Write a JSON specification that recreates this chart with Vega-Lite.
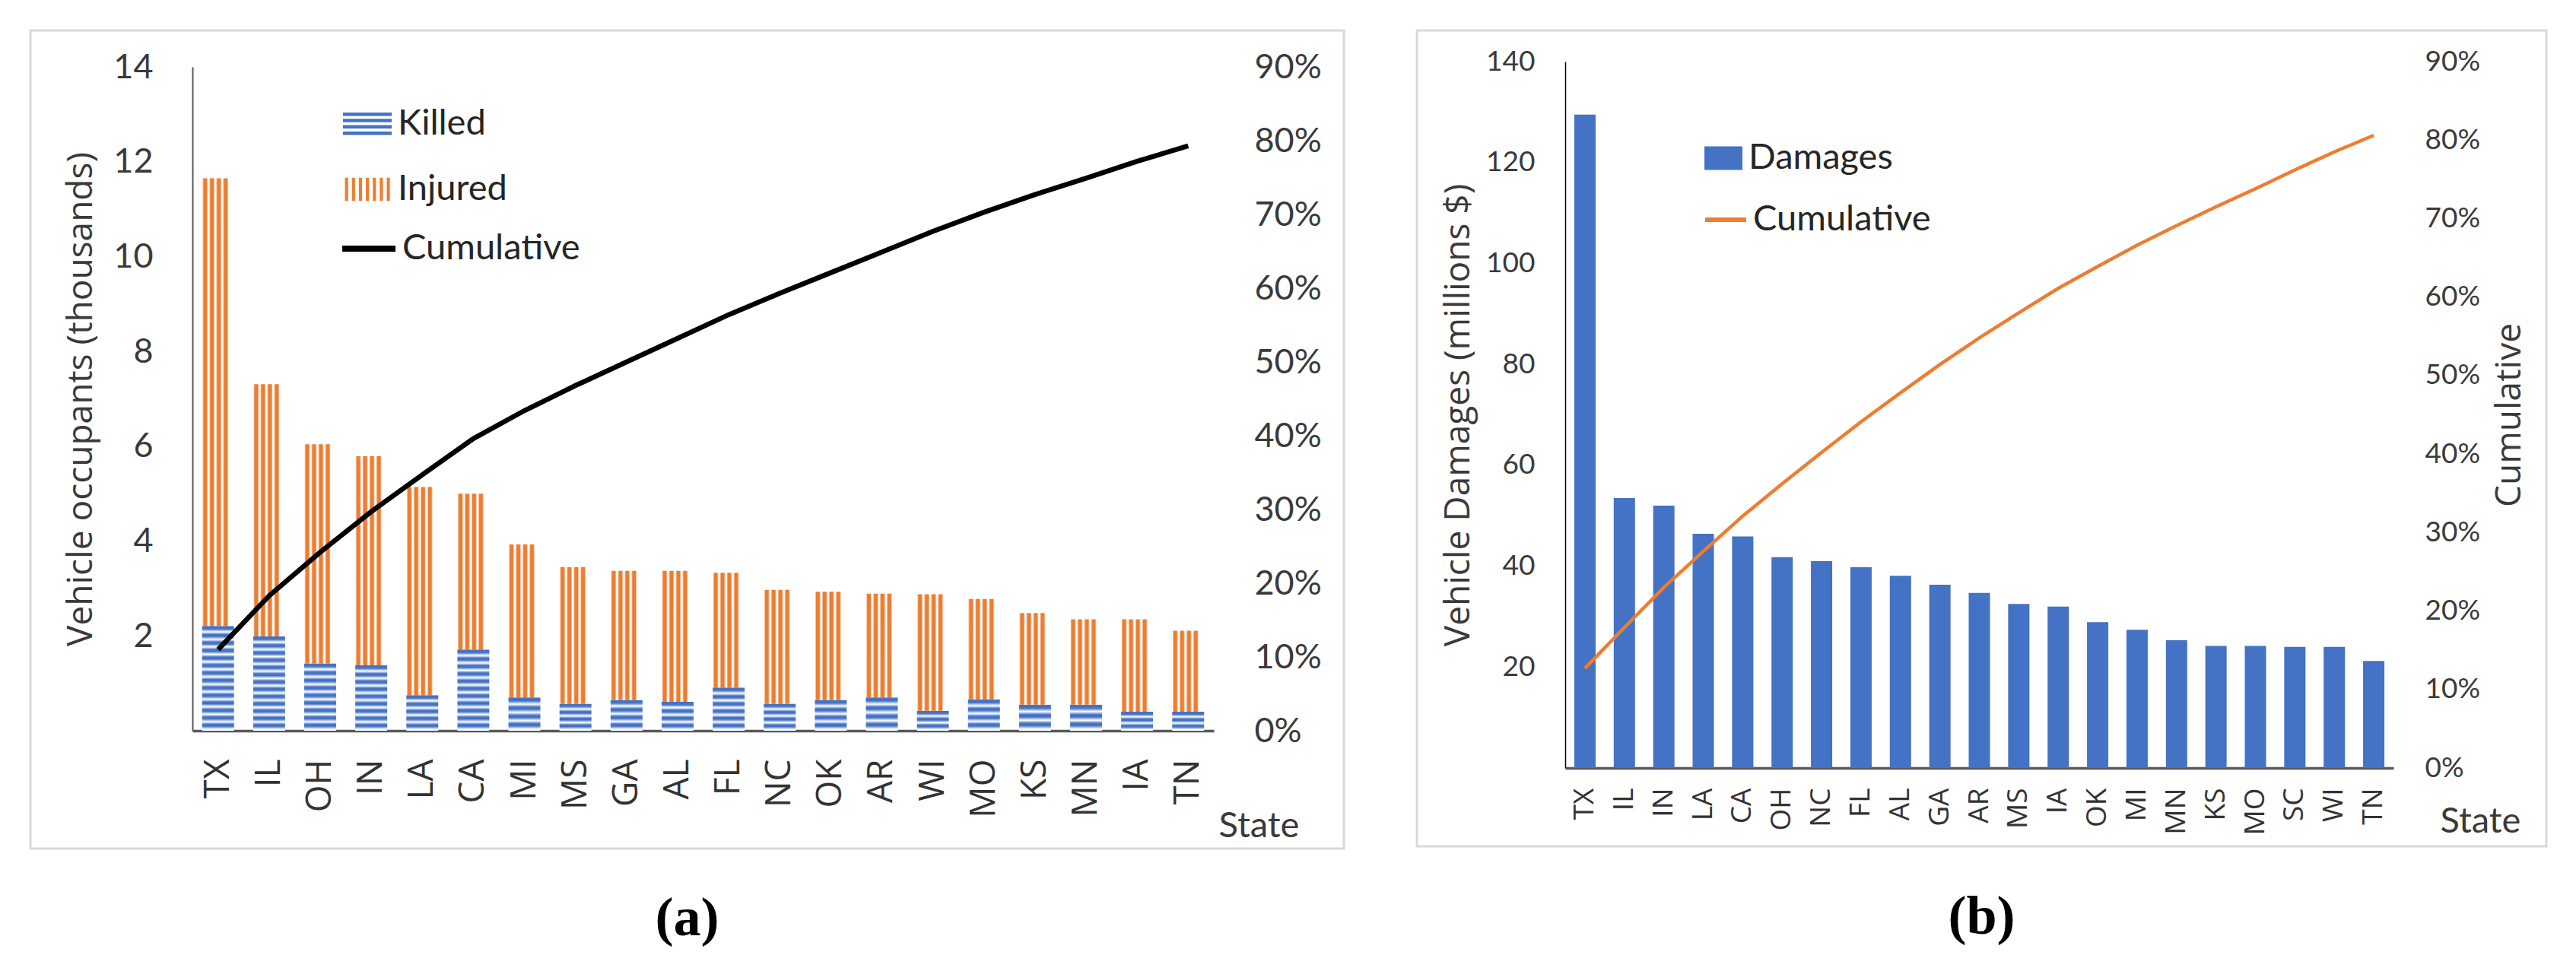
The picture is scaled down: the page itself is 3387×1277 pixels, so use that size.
{
  "$schema": "https://vega.github.io/schema/vega-lite/v6.json",
  "background": "white",
  "padding": {"left": 38, "top": 38, "right": 10, "bottom": 10},
  "config": {
    "font": "Lato",
    "view": {"stroke": "#d9d9d9", "strokeWidth": 3},
    "axis": {"grid": false, "ticks": false, "tickSize": 0, "labelColor": "#3a3a3a", "titleColor": "#3a3a3a", "titleFontWeight": "normal", "titleFont": "Open Sans", "labelFont": "Lato"},
    "legend": {"padding": 0, "labelFont": "Lato", "labelColor": "#262626", "labelLimit": 500}
  },
  "datasets": {
    "occupants": [
      {"State": "TX", "Killed": 2.21, "Injured": 9.44, "Cumulative": 0.110},
      {"State": "IL", "Killed": 1.99, "Injured": 5.32, "Cumulative": 0.183},
      {"State": "OH", "Killed": 1.42, "Injured": 4.62, "Cumulative": 0.242},
      {"State": "IN", "Killed": 1.38, "Injured": 4.41, "Cumulative": 0.297},
      {"State": "LA", "Killed": 0.75, "Injured": 4.39, "Cumulative": 0.347},
      {"State": "CA", "Killed": 1.71, "Injured": 3.29, "Cumulative": 0.396},
      {"State": "MI", "Killed": 0.70, "Injured": 3.23, "Cumulative": 0.434},
      {"State": "MS", "Killed": 0.57, "Injured": 2.88, "Cumulative": 0.468},
      {"State": "GA", "Killed": 0.65, "Injured": 2.72, "Cumulative": 0.500},
      {"State": "AL", "Killed": 0.61, "Injured": 2.76, "Cumulative": 0.532},
      {"State": "FL", "Killed": 0.91, "Injured": 2.42, "Cumulative": 0.564},
      {"State": "NC", "Killed": 0.57, "Injured": 2.40, "Cumulative": 0.593},
      {"State": "OK", "Killed": 0.65, "Injured": 2.28, "Cumulative": 0.621},
      {"State": "AR", "Killed": 0.70, "Injured": 2.19, "Cumulative": 0.649},
      {"State": "WI", "Killed": 0.42, "Injured": 2.46, "Cumulative": 0.677},
      {"State": "MO", "Killed": 0.66, "Injured": 2.12, "Cumulative": 0.703},
      {"State": "KS", "Killed": 0.55, "Injured": 1.93, "Cumulative": 0.727},
      {"State": "MN", "Killed": 0.55, "Injured": 1.80, "Cumulative": 0.749},
      {"State": "IA", "Killed": 0.40, "Injured": 1.95, "Cumulative": 0.772},
      {"State": "TN", "Killed": 0.40, "Injured": 1.71, "Cumulative": 0.793}
    ],
    "damages": [
      {"State": "TX", "Damages": 129.5, "Cumulative": 0.127},
      {"State": "IL", "Damages": 53.5, "Cumulative": 0.179},
      {"State": "IN", "Damages": 52.0, "Cumulative": 0.230},
      {"State": "LA", "Damages": 46.4, "Cumulative": 0.276},
      {"State": "CA", "Damages": 45.9, "Cumulative": 0.321},
      {"State": "OH", "Damages": 41.8, "Cumulative": 0.362},
      {"State": "NC", "Damages": 41.0, "Cumulative": 0.402},
      {"State": "FL", "Damages": 39.8, "Cumulative": 0.441},
      {"State": "AL", "Damages": 38.1, "Cumulative": 0.478},
      {"State": "GA", "Damages": 36.3, "Cumulative": 0.514},
      {"State": "AR", "Damages": 34.7, "Cumulative": 0.548},
      {"State": "MS", "Damages": 32.5, "Cumulative": 0.580},
      {"State": "IA", "Damages": 32.0, "Cumulative": 0.611},
      {"State": "OK", "Damages": 28.9, "Cumulative": 0.639},
      {"State": "MI", "Damages": 27.4, "Cumulative": 0.666},
      {"State": "MN", "Damages": 25.3, "Cumulative": 0.691},
      {"State": "KS", "Damages": 24.2, "Cumulative": 0.715},
      {"State": "MO", "Damages": 24.2, "Cumulative": 0.738},
      {"State": "SC", "Damages": 24.0, "Cumulative": 0.762},
      {"State": "WI", "Damages": 24.0, "Cumulative": 0.785},
      {"State": "TN", "Damages": 21.2, "Cumulative": 0.806}
    ]
  },
  "bounds": "flush",
  "spacing": 96,
  "resolve": {"scale": {"fill": "independent", "stroke": "independent"}, "legend": {"fill": "independent", "stroke": "independent"}},
  "hconcat": [
    {
      "width": 1727,
      "height": 1076,
      "data": {"name": "occupants"},
      "title": {"text": "(a)", "orient": "bottom", "anchor": "middle", "frame": "group", "font": "Liberation Serif", "fontWeight": "bold", "fontSize": 72, "offset": 57, "color": "#000000"},
      "layer": [
        {
          "transform": [{"fold": ["Killed", "Injured"], "as": ["key", "value"]}],
          "mark": {"type": "bar"},
          "encoding": {
            "x": {"field": "State", "type": "nominal", "sort": null,
              "scale": {"range": [213, 1556], "paddingInner": 0.375, "paddingOuter": 0.19},
              "axis": {"offset": -155, "labelAngle": 270, "labelFont": "Open Sans", "labelFontSize": 46, "labelColor": "#333333", "labelPadding": 37, "domainColor": "#595959", "domainWidth": 3.5,
                "title": "State", "titleFont": "Lato", "titleFontSize": 47, "titleAngle": 0, "titleAlign": "left", "titleBaseline": "alphabetic", "titleX": 1562, "titleY": 139}},
            "y": {"field": "value", "type": "quantitative", "stack": "zero",
              "scale": {"domain": [0, 14], "range": [921, 48], "nice": false},
              "axis": {"orient": "left", "offset": -213, "values": [2, 4, 6, 8, 10, 12, 14], "labelFontSize": 45, "labelPadding": 52, "domainColor": "#595959", "domainWidth": 2,
                "title": "Vehicle occupants (thousands)", "titleFontSize": 46, "titlePadding": 18}},
            "order": {"field": "key", "type": "nominal", "sort": "descending"},
            "fill": {
              "field": "key", "type": "nominal",
              "scale": {"domain": ["Killed", "Injured"], "range": ["#4472c4", "#ed7d31"]},
              "legend": {"title": null, "orient": "none", "legendX": 411, "legendY": 91, "direction": "vertical",
                "symbolType": {"expr": "datum.value === 'Killed' ? 'M-1,-0.47H1V-0.33H-1Z M-1,-0.21H1V-0.07H-1Z M-1,0.05H1V0.19H-1Z M-1,0.31H1V0.45H-1Z' : 'M-0.92,-0.48H-0.79V0.48H-0.92Z M-0.634,-0.48H-0.504V0.48H-0.634Z M-0.348,-0.48H-0.218V0.48H-0.348Z M-0.062,-0.48H0.068V0.48H-0.062Z M0.224,-0.48H0.354V0.48H0.224Z M0.51,-0.48H0.64V0.48H0.51Z M0.796,-0.48H0.926V0.48H0.796Z'"},
                "symbolSize": 4096, "symbolStrokeWidth": 0,
                "labelFontSize": 47, "labelOffset": 8, "rowPadding": 31}
              ,
              "condition": [
                {"test": "datum.key === 'Injured'", "value": {"gradient": "linear", "x1": 0, "y1": 0, "x2": 1, "y2": 0, "stops": [
                  {"offset": 0.005, "color": "#ffffff"}, {"offset": 0.05, "color": "#ed7d31"}, {"offset": 0.14, "color": "#ed7d31"}, {"offset": 0.185, "color": "#ffffff"},
                  {"offset": 0.219, "color": "#ffffff"}, {"offset": 0.264, "color": "#ed7d31"}, {"offset": 0.354, "color": "#ed7d31"}, {"offset": 0.399, "color": "#ffffff"},
                  {"offset": 0.433, "color": "#ffffff"}, {"offset": 0.478, "color": "#ed7d31"}, {"offset": 0.568, "color": "#ed7d31"}, {"offset": 0.613, "color": "#ffffff"},
                  {"offset": 0.647, "color": "#ffffff"}, {"offset": 0.692, "color": "#ed7d31"}, {"offset": 0.782, "color": "#ed7d31"}, {"offset": 0.827, "color": "#ffffff"}]}},
                {"test": "datum.value > 2.1", "value": {"gradient": "linear", "x1": 0, "y1": 0, "x2": 0, "y2": 1, "stops": [
                  {"offset": 0.0107, "color": "#4472c4"}, {"offset": 0.0286, "color": "#4472c4"}, {"offset": 0.0571, "color": "#ffffff"},
                  {"offset": 0.0821, "color": "#4472c4"}, {"offset": 0.1, "color": "#4472c4"}, {"offset": 0.1286, "color": "#ffffff"},
                  {"offset": 0.1536, "color": "#4472c4"}, {"offset": 0.1714, "color": "#4472c4"}, {"offset": 0.2, "color": "#ffffff"},
                  {"offset": 0.225, "color": "#4472c4"}, {"offset": 0.2429, "color": "#4472c4"}, {"offset": 0.2714, "color": "#ffffff"},
                  {"offset": 0.2964, "color": "#4472c4"}, {"offset": 0.3143, "color": "#4472c4"}, {"offset": 0.3429, "color": "#ffffff"},
                  {"offset": 0.3679, "color": "#4472c4"}, {"offset": 0.3857, "color": "#4472c4"}, {"offset": 0.4143, "color": "#ffffff"},
                  {"offset": 0.4393, "color": "#4472c4"}, {"offset": 0.4571, "color": "#4472c4"}, {"offset": 0.4857, "color": "#ffffff"},
                  {"offset": 0.5107, "color": "#4472c4"}, {"offset": 0.5286, "color": "#4472c4"}, {"offset": 0.5571, "color": "#ffffff"},
                  {"offset": 0.5821, "color": "#4472c4"}, {"offset": 0.6, "color": "#4472c4"}, {"offset": 0.6286, "color": "#ffffff"},
                  {"offset": 0.6536, "color": "#4472c4"}, {"offset": 0.6714, "color": "#4472c4"}, {"offset": 0.7, "color": "#ffffff"},
                  {"offset": 0.725, "color": "#4472c4"}, {"offset": 0.7429, "color": "#4472c4"}, {"offset": 0.7714, "color": "#ffffff"},
                  {"offset": 0.7964, "color": "#4472c4"}, {"offset": 0.8143, "color": "#4472c4"}, {"offset": 0.8429, "color": "#ffffff"},
                  {"offset": 0.8679, "color": "#4472c4"}, {"offset": 0.8857, "color": "#4472c4"}, {"offset": 0.9143, "color": "#ffffff"},
                  {"offset": 0.9393, "color": "#4472c4"}, {"offset": 0.9571, "color": "#4472c4"}, {"offset": 0.9857, "color": "#ffffff"}]}},
                {"test": "datum.value > 1.9", "value": {"gradient": "linear", "x1": 0, "y1": 0, "x2": 0, "y2": 1, "stops": [
                  {"offset": 0.0115, "color": "#4472c4"}, {"offset": 0.0308, "color": "#4472c4"}, {"offset": 0.0615, "color": "#ffffff"},
                  {"offset": 0.0885, "color": "#4472c4"}, {"offset": 0.1077, "color": "#4472c4"}, {"offset": 0.1385, "color": "#ffffff"},
                  {"offset": 0.1654, "color": "#4472c4"}, {"offset": 0.1846, "color": "#4472c4"}, {"offset": 0.2154, "color": "#ffffff"},
                  {"offset": 0.2423, "color": "#4472c4"}, {"offset": 0.2615, "color": "#4472c4"}, {"offset": 0.2923, "color": "#ffffff"},
                  {"offset": 0.3192, "color": "#4472c4"}, {"offset": 0.3385, "color": "#4472c4"}, {"offset": 0.3692, "color": "#ffffff"},
                  {"offset": 0.3962, "color": "#4472c4"}, {"offset": 0.4154, "color": "#4472c4"}, {"offset": 0.4462, "color": "#ffffff"},
                  {"offset": 0.4731, "color": "#4472c4"}, {"offset": 0.4923, "color": "#4472c4"}, {"offset": 0.5231, "color": "#ffffff"},
                  {"offset": 0.55, "color": "#4472c4"}, {"offset": 0.5692, "color": "#4472c4"}, {"offset": 0.6, "color": "#ffffff"},
                  {"offset": 0.6269, "color": "#4472c4"}, {"offset": 0.6462, "color": "#4472c4"}, {"offset": 0.6769, "color": "#ffffff"},
                  {"offset": 0.7038, "color": "#4472c4"}, {"offset": 0.7231, "color": "#4472c4"}, {"offset": 0.7538, "color": "#ffffff"},
                  {"offset": 0.7808, "color": "#4472c4"}, {"offset": 0.8, "color": "#4472c4"}, {"offset": 0.8308, "color": "#ffffff"},
                  {"offset": 0.8577, "color": "#4472c4"}, {"offset": 0.8769, "color": "#4472c4"}, {"offset": 0.9077, "color": "#ffffff"},
                  {"offset": 0.9346, "color": "#4472c4"}, {"offset": 0.9538, "color": "#4472c4"}, {"offset": 0.9846, "color": "#ffffff"}]}},
                {"test": "datum.value > 1.6", "value": {"gradient": "linear", "x1": 0, "y1": 0, "x2": 0, "y2": 1, "stops": [
                  {"offset": 0.0136, "color": "#4472c4"}, {"offset": 0.0364, "color": "#4472c4"}, {"offset": 0.0727, "color": "#ffffff"},
                  {"offset": 0.1045, "color": "#4472c4"}, {"offset": 0.1273, "color": "#4472c4"}, {"offset": 0.1636, "color": "#ffffff"},
                  {"offset": 0.1955, "color": "#4472c4"}, {"offset": 0.2182, "color": "#4472c4"}, {"offset": 0.2545, "color": "#ffffff"},
                  {"offset": 0.2864, "color": "#4472c4"}, {"offset": 0.3091, "color": "#4472c4"}, {"offset": 0.3455, "color": "#ffffff"},
                  {"offset": 0.3773, "color": "#4472c4"}, {"offset": 0.4, "color": "#4472c4"}, {"offset": 0.4364, "color": "#ffffff"},
                  {"offset": 0.4682, "color": "#4472c4"}, {"offset": 0.4909, "color": "#4472c4"}, {"offset": 0.5273, "color": "#ffffff"},
                  {"offset": 0.5591, "color": "#4472c4"}, {"offset": 0.5818, "color": "#4472c4"}, {"offset": 0.6182, "color": "#ffffff"},
                  {"offset": 0.65, "color": "#4472c4"}, {"offset": 0.6727, "color": "#4472c4"}, {"offset": 0.7091, "color": "#ffffff"},
                  {"offset": 0.7409, "color": "#4472c4"}, {"offset": 0.7636, "color": "#4472c4"}, {"offset": 0.8, "color": "#ffffff"},
                  {"offset": 0.8318, "color": "#4472c4"}, {"offset": 0.8545, "color": "#4472c4"}, {"offset": 0.8909, "color": "#ffffff"},
                  {"offset": 0.9227, "color": "#4472c4"}, {"offset": 0.9455, "color": "#4472c4"}, {"offset": 0.9818, "color": "#ffffff"}]}},
                {"test": "datum.value > 1.3", "value": {"gradient": "linear", "x1": 0, "y1": 0, "x2": 0, "y2": 1, "stops": [
                  {"offset": 0.0167, "color": "#4472c4"}, {"offset": 0.0444, "color": "#4472c4"}, {"offset": 0.0889, "color": "#ffffff"},
                  {"offset": 0.1278, "color": "#4472c4"}, {"offset": 0.1556, "color": "#4472c4"}, {"offset": 0.2, "color": "#ffffff"},
                  {"offset": 0.2389, "color": "#4472c4"}, {"offset": 0.2667, "color": "#4472c4"}, {"offset": 0.3111, "color": "#ffffff"},
                  {"offset": 0.35, "color": "#4472c4"}, {"offset": 0.3778, "color": "#4472c4"}, {"offset": 0.4222, "color": "#ffffff"},
                  {"offset": 0.4611, "color": "#4472c4"}, {"offset": 0.4889, "color": "#4472c4"}, {"offset": 0.5333, "color": "#ffffff"},
                  {"offset": 0.5722, "color": "#4472c4"}, {"offset": 0.6, "color": "#4472c4"}, {"offset": 0.6444, "color": "#ffffff"},
                  {"offset": 0.6833, "color": "#4472c4"}, {"offset": 0.7111, "color": "#4472c4"}, {"offset": 0.7556, "color": "#ffffff"},
                  {"offset": 0.7944, "color": "#4472c4"}, {"offset": 0.8222, "color": "#4472c4"}, {"offset": 0.8667, "color": "#ffffff"},
                  {"offset": 0.9056, "color": "#4472c4"}, {"offset": 0.9333, "color": "#4472c4"}, {"offset": 0.9778, "color": "#ffffff"}]}},
                {"test": "datum.value > 0.85", "value": {"gradient": "linear", "x1": 0, "y1": 0, "x2": 0, "y2": 1, "stops": [
                  {"offset": 0.025, "color": "#4472c4"}, {"offset": 0.0667, "color": "#4472c4"}, {"offset": 0.1333, "color": "#ffffff"},
                  {"offset": 0.1917, "color": "#4472c4"}, {"offset": 0.2333, "color": "#4472c4"}, {"offset": 0.3, "color": "#ffffff"},
                  {"offset": 0.3583, "color": "#4472c4"}, {"offset": 0.4, "color": "#4472c4"}, {"offset": 0.4667, "color": "#ffffff"},
                  {"offset": 0.525, "color": "#4472c4"}, {"offset": 0.5667, "color": "#4472c4"}, {"offset": 0.6333, "color": "#ffffff"},
                  {"offset": 0.6917, "color": "#4472c4"}, {"offset": 0.7333, "color": "#4472c4"}, {"offset": 0.8, "color": "#ffffff"},
                  {"offset": 0.8583, "color": "#4472c4"}, {"offset": 0.9, "color": "#4472c4"}, {"offset": 0.9667, "color": "#ffffff"}]}},
                {"test": "datum.value > 0.72", "value": {"gradient": "linear", "x1": 0, "y1": 0, "x2": 0, "y2": 1, "stops": [
                  {"offset": 0.03, "color": "#4472c4"}, {"offset": 0.08, "color": "#4472c4"}, {"offset": 0.16, "color": "#ffffff"},
                  {"offset": 0.23, "color": "#4472c4"}, {"offset": 0.28, "color": "#4472c4"}, {"offset": 0.36, "color": "#ffffff"},
                  {"offset": 0.43, "color": "#4472c4"}, {"offset": 0.48, "color": "#4472c4"}, {"offset": 0.56, "color": "#ffffff"},
                  {"offset": 0.63, "color": "#4472c4"}, {"offset": 0.68, "color": "#4472c4"}, {"offset": 0.76, "color": "#ffffff"},
                  {"offset": 0.83, "color": "#4472c4"}, {"offset": 0.88, "color": "#4472c4"}, {"offset": 0.96, "color": "#ffffff"}]}},
                {"test": "datum.value > 0.56", "value": {"gradient": "linear", "x1": 0, "y1": 0, "x2": 0, "y2": 1, "stops": [
                  {"offset": 0.0375, "color": "#4472c4"}, {"offset": 0.1, "color": "#4472c4"}, {"offset": 0.2, "color": "#ffffff"},
                  {"offset": 0.2875, "color": "#4472c4"}, {"offset": 0.35, "color": "#4472c4"}, {"offset": 0.45, "color": "#ffffff"},
                  {"offset": 0.5375, "color": "#4472c4"}, {"offset": 0.6, "color": "#4472c4"}, {"offset": 0.7, "color": "#ffffff"},
                  {"offset": 0.7875, "color": "#4472c4"}, {"offset": 0.85, "color": "#4472c4"}, {"offset": 0.95, "color": "#ffffff"}]}},
                {"test": "datum.key === 'Killed'", "value": {"gradient": "linear", "x1": 0, "y1": 0, "x2": 0, "y2": 1, "stops": [
                  {"offset": 0.05, "color": "#4472c4"}, {"offset": 0.1333, "color": "#4472c4"}, {"offset": 0.2667, "color": "#ffffff"},
                  {"offset": 0.3833, "color": "#4472c4"}, {"offset": 0.4667, "color": "#4472c4"}, {"offset": 0.6, "color": "#ffffff"},
                  {"offset": 0.7167, "color": "#4472c4"}, {"offset": 0.8, "color": "#4472c4"}, {"offset": 0.9333, "color": "#ffffff"}]}}
              ]
            }
          }
        },
        {
          "mark": {"type": "line", "strokeWidth": 6.5},
          "encoding": {
            "x": {"field": "State", "type": "nominal", "sort": null},
            "y": {"field": "Cumulative", "type": "quantitative",
              "scale": {"domain": [0, 0.9], "range": [921, 48], "nice": false},
              "axis": {"orient": "right", "offset": -171, "values": [0, 0.1, 0.2, 0.3, 0.4, 0.5, 0.6, 0.7, 0.8, 0.9], "format": ".0%", "labelFontSize": 45, "labelPadding": 53, "domain": false, "title": null}},
            "stroke": {"datum": "Cumulative", "type": "nominal", "scale": {"range": ["#000000"]},
              "legend": {"title": null, "orient": "none", "legendX": 406, "legendY": 248, "symbolType": "stroke", "symbolSize": 4900, "symbolStrokeWidth": 8, "labelFontSize": 47, "labelOffset": 5}}
          }
        }
      ],
      "resolve": {"scale": {"y": "independent"}}
    },
    {
      "width": 1485,
      "height": 1073,
      "data": {"name": "damages"},
      "title": {"text": "(b)", "orient": "bottom", "anchor": "middle", "frame": "group", "font": "Liberation Serif", "fontWeight": "bold", "fontSize": 72, "offset": 58, "color": "#000000"},
      "layer": [
        {
          "mark": {"type": "bar"},
          "encoding": {
            "x": {"field": "State", "type": "nominal", "sort": null,
              "scale": {"range": [195, 1284], "paddingInner": 0.46, "paddingOuter": 0.23},
              "axis": {"offset": -103, "labelAngle": 270, "labelFont": "Open Sans", "labelFontSize": 37, "labelColor": "#333333", "labelPadding": 26, "domainColor": "#595959", "domainWidth": 3.5,
                "title": "State", "titleFont": "Lato", "titleFontSize": 47, "titleAngle": 0, "titleAlign": "left", "titleBaseline": "alphabetic", "titleX": 1345, "titleY": 84}},
            "y": {"field": "Damages", "type": "quantitative",
              "scale": {"domain": [0, 140], "range": [970, 41], "nice": false},
              "axis": {"orient": "left", "offset": -195, "values": [20, 40, 60, 80, 100, 120, 140], "labelFontSize": 37, "labelPadding": 40, "domainColor": "#000000", "domainWidth": 1.5,
                "title": "Vehicle Damages (millions $)", "titleFontSize": 46, "titlePadding": 12}},
            "fill": {"datum": "Damages", "type": "nominal", "scale": {"range": ["#4472c4"]},
              "legend": {"title": null, "orient": "none", "legendX": 378, "legendY": 143, "symbolType": "M-1,-0.62H1V0.62H-1Z", "symbolSize": 2500, "symbolStrokeWidth": 0, "symbolOpacity": 1, "labelFontSize": 47, "labelOffset": 8}}
          }
        },
        {
          "mark": {"type": "line", "strokeWidth": 4.5},
          "encoding": {
            "x": {"field": "State", "type": "nominal", "sort": null},
            "y": {"field": "Cumulative", "type": "quantitative",
              "scale": {"domain": [0, 0.9], "range": [970, 41], "nice": false},
              "axis": {"orient": "right", "offset": -201, "values": [0, 0.1, 0.2, 0.3, 0.4, 0.5, 0.6, 0.7, 0.8, 0.9], "format": ".0%", "labelFontSize": 37, "labelPadding": 41, "domain": false,
                "title": "Cumulative", "titleFontSize": 46, "titleAngle": 270, "titleBaseline": "top", "titlePadding": 17}},
            "stroke": {"datum": "Cumulative", "type": "nominal", "scale": {"range": ["#ed7d31"]},
              "legend": {"title": null, "orient": "none", "legendX": 376, "legendY": 219, "symbolType": "stroke", "symbolSize": 2916, "symbolStrokeWidth": 6, "labelFontSize": 47, "labelOffset": 6}}
          }
        }
      ],
      "resolve": {"scale": {"y": "independent"}}
    }
  ]
}
